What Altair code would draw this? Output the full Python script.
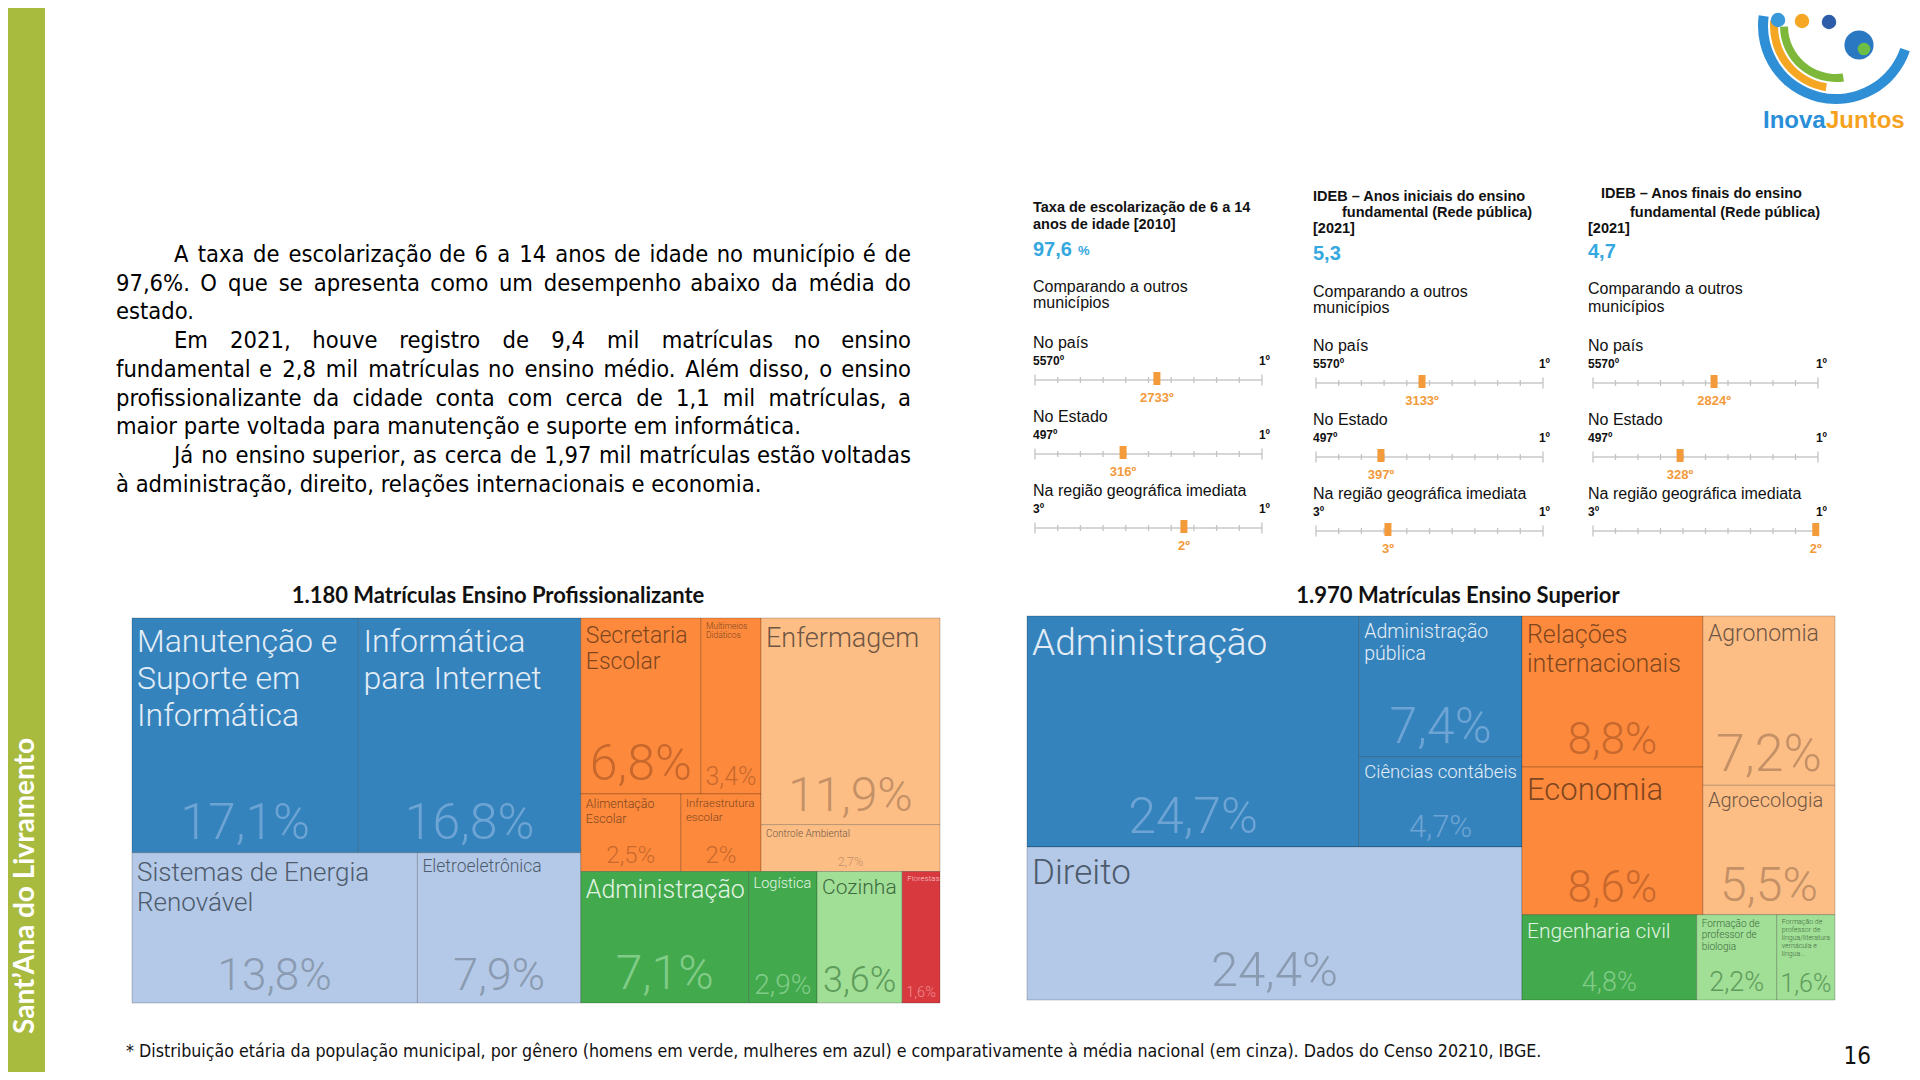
import unicodedata
import altair as alt
import pandas as pd

# ------------------------------------------------------------------ DATA
paragrafo = [
    "A taxa de escolarização de 6 a 14 anos de idade no município é de",
    "97,6%. O que se apresenta como um desempenho abaixo da média do",
    "estado.",
    "Em 2021, houve registro de 9,4 mil matrículas no ensino",
    "fundamental e 2,8 mil matrículas no ensino médio. Além disso, o ensino",
    "profissionalizante da cidade conta com cerca de 1,1 mil matrículas, a",
    "maior parte voltada para manutenção e suporte em informática.",
    "Já no ensino superior, as cerca de 1,97 mil matrículas estão voltadas",
    "à administração, direito, relações internacionais e economia.",
]

titulo_prof = "1.180 Matrículas Ensino Profissionalizante"
prof_cursos = ["Manutenção e Suporte em Informática", "Informática para Internet",
               "Sistemas de Energia Renovável", "Eletroeletrônica", "Secretaria Escolar",
               "Multimeios Didáticos", "Alimentação Escolar", "Infraestrutura escolar",
               "Enfermagem", "Controle Ambiental", "Administração", "Logística",
               "Cozinha", "Florestas"]
prof_pct = [17.1, 16.8, 13.8, 7.9, 6.8, 3.4, 2.5, 2.0, 11.9, 2.7, 7.1, 2.9, 3.6, 1.6]
prof_grupo = ["azul", "azul", "azul_claro", "azul_claro", "laranja", "laranja", "laranja",
              "laranja", "laranja_claro", "laranja_claro", "verde", "verde", "verde_claro",
              "vermelho"]

titulo_sup = "1.970 Matrículas Ensino Superior"
sup_cursos = ["Administração", "Administração pública", "Ciências contábeis", "Direito",
              "Relações internacionais", "Economia", "Agronomia", "Agroecologia",
              "Engenharia civil", "Formação de professor de biologia",
              "Formação de professor de língua/literatura vernácula e língua..."]
sup_pct = [24.7, 7.4, 4.7, 24.4, 8.8, 8.6, 7.2, 5.5, 4.8, 2.2, 1.6]
sup_grupo = ["azul", "azul", "azul", "azul_claro", "laranja", "laranja", "laranja_claro",
             "laranja_claro", "verde", "verde_claro", "verde_claro"]

painel_titulos = [["Taxa de escolarização de 6 a 14", "anos de idade [2010]"],
                  ["IDEB – Anos iniciais do ensino", "fundamental (Rede pública)", "[2021]"],
                  ["IDEB – Anos finais do ensino", "fundamental (Rede pública)", "[2021]"]]
painel_valor = ["97,6", "5,3", "4,7"]
painel_unidade = ["%", "", ""]
ambitos = ["No país", "No Estado", "Na região geográfica imediata"]
ambito_total = ["5570º", "497º", "3º"]
posicoes = [["2733º", "316º", "2º"], ["3133º", "397º", "3º"], ["2824º", "328º", "2º"]]
# relative standing on each ranking bar (0 = last, 1 = first)
posicao_relativa = [[0.537, 0.388, 0.656], [0.467, 0.286, 0.317], [0.538, 0.387, 0.99]]

rodape = ("* Distribuição etária da população municipal, por gênero (homens em verde, mulheres "
          "em azul) e comparativamente à média nacional (em cinza). Dados do Censo 20210, IBGE.")
pagina = "16"
lateral = "Sant’Ana do Livramento"

# ------------------------------------------------------------------ STYLE / LAYOUT
W, H = 1904, 1064
OFF = 8
PX = alt.Scale(domain=[0, W], range=[0, W], nice=False, zero=False)
PY = alt.Scale(domain=[0, H], range=[0, H], nice=False, zero=False)
ONE = pd.DataFrame({"k": [0]})

FILL = {"azul": "#3483BD", "azul_claro": "#B3C9E7", "laranja": "#FD8A3C",
        "laranja_claro": "#FDBE86", "verde": "#42A94D", "verde_claro": "#A1DE96",
        "vermelho": "#D8393F"}
LABC = {"azul": "#E4EDF6", "azul_claro": "#4E5B6C", "laranja": "#7F4620",
        "laranja_claro": "#6F5644", "verde": "#E2F4E3", "verde_claro": "#3E6B3E",
        "vermelho": "#F6CACC"}
PCTC = {"azul": "#6DA4D4", "azul_claro": "#8A9AB0", "laranja": "#C8682D",
        "laranja_claro": "#C49066", "verde": "#82CC89", "verde_claro": "#5E9C5B",
        "vermelho": "#EE8E92"}

PROF_TREE = ("h", [("v", [("h", [0, 1]), ("h", [2, 3])]),
                   ("v", [("h", [("v", [("h", [4, 5]), ("h", [6, 7])]), ("v", [8, 9])]),
                          ("h", [10, 11, 12, 13])])])
SUP_TREE = ("h", [("v", [("h", [0, ("v", [1, 2])]), 3]),
                  ("v", [("h", [("v", [4, 5]), ("v", [6, 7])]), ("h", [8, 9, 10])])])

PROF_BREAK = {0: ["Manutenção e", "Suporte em", "Informática"], 1: ["Informática", "para Internet"],
              2: ["Sistemas de Energia", "Renovável"], 4: ["Secretaria", "Escolar"],
              5: ["Multimeios", "Didáticos"], 6: ["Alimentação", "Escolar"],
              7: ["Infraestrutura", "escolar"]}
SUP_BREAK = {1: ["Administração", "pública"], 4: ["Relações", "internacionais"],
             9: ["Formação de", "professor de", "biologia"],
             10: ["Formação de", "professor de", "língua/literatura", "vernácula e", " língua..."]}
PROF_FS = [(32, 50), (32, 50), (26, 44), (17.5, 45), (23, 50), (8.5, 25), (12.5, 24), (11.5, 24),
           (27, 48), (10, 12.5), (25, 48), (14.5, 28), (21, 36), (8, 14.5)]
SUP_FS = [(37, 50), (19.5, 50), (18.5, 31), (35, 49), (25, 44), (31, 44), (23, 52), (20, 48),
          (21, 27), (10, 27), (7, 25)]

TM_FONT = "Roboto"
PAR_FONT = "DejaVu Sans Condensed"
PAR_FS = 23.5
layers = []

# approximate advance widths (em) of DejaVu Sans; the condensed face is narrower
CW = {" ": .318, "a": .613, "b": .635, "c": .550, "d": .635, "e": .615, "f": .352, "g": .635,
      "h": .634, "i": .278, "j": .278, "k": .579, "l": .278, "m": .974, "n": .634, "o": .612,
      "p": .635, "q": .635, "r": .411, "s": .521, "t": .392, "u": .634, "v": .592, "w": .818,
      "x": .592, "y": .592, "z": .525, ",": .318, ".": .318, "%": .950, "A": .684, "E": .632,
      "J": .295, "O": .787}
COND = 0.885


def est_w(s, fs):
    tot = 0.0
    for ch in s:
        base = unicodedata.normalize("NFD", ch)[0]
        tot += CW.get(base, .636 if base.isdigit() else .6)
    return tot * fs * COND


def texts(items, font="Liberation Sans", size=14, color="#000", weight="normal",
          align="left", baseline="alphabetic", angle=0):
    df = pd.DataFrame({"x": [i[0] - OFF for i in items], "y": [i[1] - OFF for i in items],
                       "t": [i[2] for i in items]})
    return alt.Chart(df).mark_text(font=font, fontSize=size, color=color, fontWeight=weight,
                                   align=align, baseline=baseline, angle=angle).encode(
        x=alt.X("x:Q", scale=PX, axis=None), y=alt.Y("y:Q", scale=PY, axis=None),
        text="t:N")


def fmt(v):
    s = f"{v:.1f}".replace(".", ",")
    if s.endswith(",0"):
        s = s[:-2]
    return s + "%"


def treemap(names, vals, groups, tree, breaks, fs, box):
    X0, Y0, X1, Y1 = box
    bw, bh = X1 - X0, Y1 - Y0
    rects = {}

    def total(n):
        return vals[n] if isinstance(n, int) else sum(total(c) for c in n[1])

    def lay(n, x0, y0, x1, y1):
        if isinstance(n, int):
            rects[n] = (x0, y0, x1, y1)
            return
        o, ch = n
        s = total(n)
        p = x0 if o == "h" else y0
        for c in ch:
            f = total(c) / s
            if o == "h":
                w = (x1 - x0) * f
                lay(c, p, y0, p + w, y1)
                p += w
            else:
                h = (y1 - y0) * f
                lay(c, x0, p, x1, p + h)
                p += h

    lay(tree, 0.0, 0.0, 1.0, 1.0)
    sx = alt.Scale(domain=[0, 1], range=[X0 - OFF, X1 - OFF], nice=False, zero=False)
    sy = alt.Scale(domain=[0, 1], range=[Y0 - OFF, Y1 - OFF], nice=False, zero=False)
    cells, labs, pcts = [], [], []
    for i, (x0, y0, x1, y1) in rects.items():
        g = groups[i]
        cells.append({"nome": names[i], "x0": x0, "x1": x1, "y0": y0, "y1": y1, "fill": FILL[g]})
        lf, pf = fs[i]
        for k, line in enumerate(breaks.get(i, [names[i]])):
            labs.append({"t": line, "x": x0 + 5 / bw,
                         "y": y0 + (lf + 2 + k * 1.15 * lf) / bh, "fs": lf, "c": LABC[g]})
        pcts.append({"t": fmt(vals[i]), "x": (x0 + x1) / 2,
                     "y": y1 - (0.22 * pf + 3) / bh, "fs": pf, "c": PCTC[g]})
    rect = alt.Chart(pd.DataFrame(cells)).mark_rect(
        stroke="#000000", strokeOpacity=0.2, strokeWidth=1).encode(
        x=alt.X("x0:Q", scale=sx, axis=None), x2="x1:Q",
        y=alt.Y("y0:Q", scale=sy, axis=None), y2="y1:Q",
        color=alt.Color("fill:N", scale=None), tooltip="nome:N")
    out = [rect]
    for df, al in ((labs, "left"), (pcts, "center")):
        out.append(alt.Chart(pd.DataFrame(df)).mark_text(
            font=TM_FONT, fontWeight=300, align=al, baseline="alphabetic").encode(
            x=alt.X("x:Q", scale=sx, axis=None), y=alt.Y("y:Q", scale=sy, axis=None),
            text="t:N", size=alt.Size("fs:Q", scale=None), color=alt.Color("c:N", scale=None)))
    return out


# ---- sidebar
layers.append(alt.Chart(ONE).mark_rect(color="#A9BB3F").encode(
    x=alt.value(0), x2=alt.value(45 - OFF), y=alt.value(0), y2=alt.value(H)))
layers.append(texts([(26, 886, lateral)], font="Lato", size=28, color="#FFFFFF",
                    weight="bold", align="center", baseline="middle", angle=270))

# ---- logo (approximation)
for r_out, r_in, t0, t1, col in ((78, 68, 1.9, 4.85, "#2F8FD6"), (66, 58, 3.3, 4.8, "#F5A623"),
                                 (56, 48, 3.0, 4.7, "#7DB83A")):
    layers.append(alt.Chart(ONE).mark_arc(theta=t0, theta2=t1, radius=r_out, radius2=r_in,
                                          color=col).encode(
        x=alt.value(1836 - OFF), y=alt.value(26 - OFF)))
for hx, hy, col in ((1778, 20, "#3A9AD9"), (1802, 21, "#F5A623"), (1829, 22, "#2D5DA8")):
    layers.append(alt.Chart(ONE).mark_point(filled=True, shape="circle", size=210, color=col,
                                            opacity=1).encode(
        x=alt.value(hx - OFF), y=alt.value(hy - OFF)))
layers.append(alt.Chart(ONE).mark_point(filled=True, shape="circle", size=850, color="#2B78C2",
                                        opacity=1).encode(x=alt.value(1859 - OFF), y=alt.value(45 - OFF)))
layers.append(alt.Chart(ONE).mark_point(filled=True, shape="circle", size=160, color="#6DBE45",
                                        opacity=1).encode(x=alt.value(1864 - OFF), y=alt.value(49 - OFF)))
layers.append(texts([(1763, 128, "Inova")], size=24, color="#2A8FD8", weight="bold"))
layers.append(texts([(1826, 128, "Juntos")], size=24, color="#F6A21E", weight="bold"))

# ---- paragraph (justified lines are spread word by word)
INDENT = {0, 3, 7}
JUSTIFY = {0, 1, 3, 4, 5, 7}
PAR_RIGHT = 911
par_left, par_right = [], []
for i, s in enumerate(paragrafo):
    x0 = 174 if i in INDENT else 116
    yb = 262 + 28.7 * i
    if i in JUSTIFY:
        words = s.split(" ")
        ws = [est_w(w, PAR_FS) for w in words]
        gap = (PAR_RIGHT - x0 - sum(ws)) / (len(words) - 1)
        x = x0
        for k, (w, wd) in enumerate(zip(words, ws)):
            if k == len(words) - 1:
                par_right.append((PAR_RIGHT, yb, w))
            else:
                par_left.append((x, yb, w))
            x += wd + gap
    else:
        par_left.append((x0, yb, s))
layers.append(texts(par_left, font=PAR_FONT, size=PAR_FS, color="#000000"))
layers.append(texts(par_right, font=PAR_FONT, size=PAR_FS, color="#000000", align="right"))

# ---- ranking panels
PANEL_LEFT = [1033, 1313, 1588]
TITLE_POS = [[(1033, 212), (1033, 229)], [(1313, 201), (1342, 217), (1313, 233)],
             [(1601, 198), (1630, 217), (1588, 233)]]
VALUE_Y = [256, 260, 258]
UNIT_X = [1078, 0, 0]
COMP_Y = [(292, 308), (297, 313), (294, 312)]
ROW_L = [[380, 454, 528], [383, 457, 531], [383, 457, 531]]
LINE_X = [(1035, 1262), (1316, 1543), (1593, 1818)]
ONE_X = [1270, 1550, 1827]
BLUE = "#35A8E0"
ORANGE = "#F39A3B"

title_items, value_items, unit_items, reg_items, tot_items, one_items = [], [], [], [], [], []
for p in range(3):
    for (tx, ty), s in zip(TITLE_POS[p], painel_titulos[p]):
        title_items.append((tx, ty, s))
    value_items.append((PANEL_LEFT[p], VALUE_Y[p], painel_valor[p]))
    if painel_unidade[p]:
        unit_items.append((UNIT_X[p], VALUE_Y[p] - 1, painel_unidade[p]))
    reg_items.append((PANEL_LEFT[p], COMP_Y[p][0], "Comparando a outros"))
    reg_items.append((PANEL_LEFT[p], COMP_Y[p][1], "municípios"))
    for r in range(3):
        L = ROW_L[p][r]
        reg_items.append((PANEL_LEFT[p], L - 32, ambitos[r]))
        tot_items.append((PANEL_LEFT[p], L - 15, ambito_total[r]))
        one_items.append((ONE_X[p], L - 15, "1º"))

    sx = alt.Scale(domain=[0, 1], range=[LINE_X[p][0] - OFF, LINE_X[p][1] - OFF],
                   nice=False, zero=False)
    base = pd.DataFrame({"a": [0.0] * 3, "b": [1.0] * 3,
                         "y": [ROW_L[p][r] - OFF for r in range(3)]})
    layers.append(alt.Chart(base).mark_rule(color="#C9C9C9", strokeWidth=1.5).encode(
        x=alt.X("a:Q", scale=sx, axis=None), x2="b:Q", y=alt.Y("y:Q", scale=PY, axis=None)))
    tk = pd.DataFrame([{"f": t / 10, "y": ROW_L[p][r] - OFF, "end": t in (0, 10)}
                       for r in range(3) for t in range(11)])
    for end, sz in ((False, 6), (True, 11)):
        layers.append(alt.Chart(tk[tk["end"] == end]).mark_tick(
            orient="vertical", size=sz, thickness=1.3, color="#C4C4C4", opacity=1).encode(
            x=alt.X("f:Q", scale=sx, axis=None), y=alt.Y("y:Q", scale=PY, axis=None)))
    mk = pd.DataFrame({"f": posicao_relativa[p], "r": posicoes[p],
                       "ym": [ROW_L[p][r] - OFF - 1.5 for r in range(3)],
                       "yl": [ROW_L[p][r] - OFF + 17.5 for r in range(3)]})
    layers.append(alt.Chart(mk).mark_tick(orient="vertical", size=13, thickness=7,
                                          color=ORANGE, opacity=1).encode(
        x=alt.X("f:Q", scale=sx, axis=None), y=alt.Y("ym:Q", scale=PY, axis=None)))
    layers.append(alt.Chart(mk).mark_text(font="Liberation Sans", fontSize=13,
                                          fontWeight="bold", color=ORANGE, align="center").encode(
        x=alt.X("f:Q", scale=sx, axis=None), y=alt.Y("yl:Q", scale=PY, axis=None), text="r:N"))

layers.append(texts(title_items, size=14.5, weight="bold", color="#111111"))
layers.append(texts(value_items, size=20, weight="bold", color=BLUE))
layers.append(texts(unit_items, size=13, weight="bold", color=BLUE))
layers.append(texts(reg_items, size=16, color="#111111"))
layers.append(texts(tot_items, size=12, weight="bold", color="#111111"))
layers.append(texts(one_items, size=12, weight="bold", color="#111111", align="right"))

# ---- treemaps
layers.append(texts([(498, 603, titulo_prof), (1458, 603, titulo_sup)], font="Lato", size=22,
                    weight="bold", color="#111111", align="center"))
layers += treemap(prof_cursos, prof_pct, prof_grupo, PROF_TREE, PROF_BREAK, PROF_FS,
                  (132, 618, 940, 1003))
layers += treemap(sup_cursos, sup_pct, sup_grupo, SUP_TREE, SUP_BREAK, SUP_FS,
                  (1027, 616, 1835, 1000))

# ---- footer
layers.append(texts([(126, 1057, rodape)], font=PAR_FONT, size=17.7, color="#111111"))
layers.append(texts([(1871, 1064, pagina)], font=PAR_FONT, size=24,
                    color="#111111", align="right"))

chart = alt.layer(*layers).properties(
    width=W, height=H, padding=0, autosize=alt.AutoSizeParams(type="none"),
    background="#FFFFFF").resolve_scale(x="independent", y="independent").configure_view(stroke=None)

chart.save("out.html", embed_options={"renderer": "svg", "actions": False})
